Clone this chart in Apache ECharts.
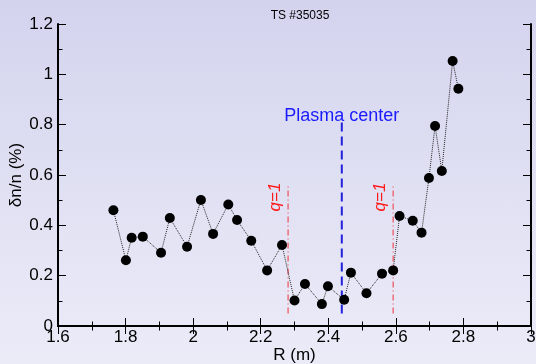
<!DOCTYPE html>
<html><head><meta charset="utf-8">
<script src="https://cdn.jsdelivr.net/npm/echarts@6/dist/echarts.min.js"></script>
<style>
html,body{margin:0;padding:0;}
body{width:536px;height:364px;background:linear-gradient(to bottom,#d3d3ee 0%,#e0e0f3 50%,#ebebf8 100%);}
#c{width:536px;height:364px;}
</style></head><body>
<div id="c"></div>
<script>
// Data
const R = [1.764,1.801,1.818,1.851,1.905,1.931,1.982,2.023,2.059,2.104,2.130,2.172,2.219,2.263,2.300,2.331,2.381,2.399,2.447,2.467,2.513,2.559,2.592,2.611,2.650,2.676,2.698,2.716,2.736,2.768,2.785];
const dn = [0.460,0.261,0.351,0.355,0.291,0.429,0.315,0.501,0.366,0.483,0.421,0.339,0.221,0.322,0.101,0.167,0.087,0.158,0.104,0.212,0.130,0.208,0.221,0.437,0.418,0.371,0.588,0.795,0.616,1.053,0.943];
const qLeftR = 2.281, qRightR = 2.592, centerR = 2.440;
const qRange = [0.05, 0.566];
const centerRange = [0.05, 0.812];
const titleText = 'TS #35035';
const xName = 'R (m)', yName = 'δn/n (%)';
const qLabel = 'q=1', centerLabel = 'Plasma center';

const FONT = '"Liberation Sans", Arial, sans-serif';
const chart = echarts.init(document.getElementById('c'), null, {renderer:'canvas'});
const axisLine = {show:true, lineStyle:{color:'#000', width:2}};
const tick = {show:true, inside:true, length:8, lineStyle:{color:'#000', width:1}};
const minor = {show:true, splitNumber:2, length:4.5, lineStyle:{color:'#000', width:1}};
const lab = {color:'#000', fontSize:17, fontFamily:FONT};
function vline(x, rng, color, type, width){
  return {type:'line', data:[[x, rng[0]],[x, rng[1]]], symbol:'none', silent:true,
    lineStyle:{color:color, type:type, width:width}, z:1};
}
chart.setOption({
  backgroundColor:'transparent',
  animation:false,
  title:{text:titleText, left:295, top:5, textAlign:'center', textStyle:{fontSize:12, fontWeight:'normal', color:'#000', fontFamily:FONT}},
  grid:{left:58, right:5, top:24, bottom:38, containLabel:false, outerBoundsMode:'none'},
  xAxis:[
    {type:'value', min:1.6, max:3, interval:0.2, position:'bottom', axisLine, axisTick:tick, minorTick:minor, splitLine:{show:false},
     axisLabel:Object.assign({margin:3}, lab), name:xName, nameLocation:'middle', nameGap:21, nameMoveOverlap:false,
     nameTextStyle:{color:'#000', fontSize:17, fontFamily:FONT}},
    {type:'value', min:1.6, max:3, interval:0.2, position:'top', axisLine, axisTick:tick, minorTick:minor, splitLine:{show:false}, axisLabel:{show:false}}
  ],
  yAxis:[
    {type:'value', min:0, max:1.2, interval:0.2, position:'left', axisLine, axisTick:tick, minorTick:minor, splitLine:{show:false},
     axisLabel:Object.assign({margin:5}, lab), name:yName, nameLocation:'middle', nameGap:33, nameMoveOverlap:false,
     nameTextStyle:{color:'#000', fontSize:17, fontFamily:FONT}},
    {type:'value', min:0, max:1.2, interval:0.2, position:'right', axisLine, axisTick:tick, minorTick:minor, splitLine:{show:false}, axisLabel:{show:false}}
  ],
  series:[
    vline(qLeftR, qRange, '#f0505a', [6,3,1,3], 1.2),
    vline(qRightR, qRange, '#f0505a', [6,3,1,3], 1.2),
    vline(centerR, centerRange, '#2222dd', [9,5], 2),
    {type:'line', data:R.map((r,i)=>[r, dn[i]]), symbol:'circle', symbolSize:10,
     itemStyle:{color:'#000'}, lineStyle:{color:'#222', type:'dotted', width:1}, z:3}
  ]
});
const pL = chart.convertToPixel({xAxisIndex:0, yAxisIndex:0}, [qLeftR, qRange[1]]);
const pR = chart.convertToPixel({xAxisIndex:0, yAxisIndex:0}, [qRightR, qRange[1]]);
const pC = chart.convertToPixel({xAxisIndex:0, yAxisIndex:0}, [centerR, centerRange[1]]);
function qText(p){
  return {type:'text', x:p[0]-4, y:p[1]-1, rotation:Math.PI/2, silent:true,
    style:{text:qLabel, fill:'#ff1a1a', font:'italic 17px '+FONT, align:'right', verticalAlign:'bottom'}};
}
chart.setOption({graphic:[
  qText(pL), qText(pR),
  {type:'text', x:pC[0], y:pC[1]+3, silent:true,
   style:{text:centerLabel, fill:'#1a1aff', font:'18px '+FONT, align:'center', verticalAlign:'bottom'}}
]});
</script>
</body></html>
